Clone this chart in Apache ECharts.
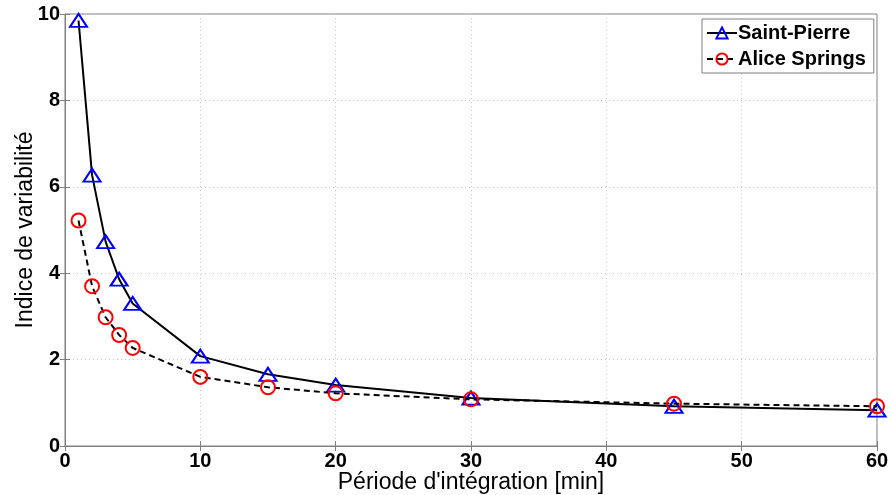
<!DOCTYPE html>
<html>
<head>
<meta charset="utf-8">
<script src="https://cdn.jsdelivr.net/npm/echarts@6/dist/echarts.min.js"></script>
<style>html,body{margin:0;padding:0;background:#fff}#c{width:892px;height:495px}</style>
</head>
<body>
<div id="c"></div>
<script>
const periods = [1, 2, 3, 4, 5, 10, 15, 20, 30, 45, 60];
const saintPierre = [9.85, 6.27, 4.73, 3.86, 3.30, 2.08, 1.66, 1.41, 1.11, 0.92, 0.83];
const aliceSprings = [5.22, 3.70, 2.98, 2.57, 2.27, 1.60, 1.36, 1.22, 1.08, 0.98, 0.92];
const xTicks = [0, 10, 20, 30, 40, 50, 60];
const yTicks = [0, 2, 4, 6, 8, 10];

const font = 'Liberation Sans, Arial, sans-serif';
const gray = '#7f7f7f';
const chart = echarts.init(document.getElementById('c'));
const pairs = (ys) => periods.map((x, i) => [x, ys[i]]);
const axisCommon = {
  axisLine: { show: true, lineStyle: { color: gray, width: 1 } },
  axisTick: { show: true, inside: true, length: 5, lineStyle: { color: gray } },
  splitLine: { show: true, lineStyle: { color: '#c8c8c8', type: [1, 3], width: 1 } },
  axisLabel: { color: '#000', fontWeight: 'bold', fontSize: 20, fontFamily: font }
};
chart.setOption({
  animation: false,
  backgroundColor: '#fff',
  grid: { left: 65, right: 15, top: 14, bottom: 49, show: true, borderColor: gray, borderWidth: 1,
          containLabel: false, outerBoundsMode: 'none' },
  legend: {
    left: 702, top: 19,
    orient: 'vertical',
    backgroundColor: '#fff',
    borderColor: gray, borderWidth: 1,
    padding: [4, 8, 4, 4],
    itemGap: 6,
    itemWidth: 30, itemHeight: 14,
    textStyle: { color: '#000', fontWeight: 'bold', fontSize: 20, fontFamily: font, padding: [0, 0, 0, -4] },
    data: ['Saint-Pierre', 'Alice Springs']
  },
  xAxis: [Object.assign({}, axisCommon, {
    type: 'value', min: xTicks[0], max: xTicks[xTicks.length - 1], interval: 10,
    name: "Période d'intégration [min]", nameLocation: 'middle', nameGap: 25, nameMoveOverlap: false,
    nameTextStyle: { color: '#000', fontSize: 23, fontFamily: font },
    axisLabel: Object.assign({}, axisCommon.axisLabel, { margin: 5 })
  }), {
    type: 'value', position: 'top', min: 0, max: 60, interval: 10,
    axisLine: { show: false }, axisLabel: { show: false }, splitLine: { show: false },
    axisTick: { show: true, inside: true, length: 5, lineStyle: { color: gray } }
  }],
  yAxis: [Object.assign({}, axisCommon, {
    type: 'value', min: yTicks[0], max: yTicks[yTicks.length - 1], interval: 2,
    name: 'Indice de variabilité', nameLocation: 'middle', nameGap: 28, nameRotate: 90, nameMoveOverlap: false,
    nameTextStyle: { color: '#000', fontSize: 23, fontFamily: font },
    axisLabel: Object.assign({}, axisCommon.axisLabel, { margin: 5 })
  }), {
    type: 'value', position: 'right', min: 0, max: 10, interval: 2,
    axisLine: { show: false }, axisLabel: { show: false }, splitLine: { show: false },
    axisTick: { show: true, inside: true, length: 5, lineStyle: { color: gray } }
  }],
  series: [{
    name: 'Saint-Pierre', type: 'line', data: pairs(saintPierre),
    smooth: false,
    symbol: 'triangle', symbolSize: [17, 13],
    lineStyle: { color: '#000', width: 2 },
    itemStyle: { color: 'rgba(0,0,0,0)', borderColor: '#0000ff', borderWidth: 2 },
    z: 3
  }, {
    name: 'Alice Springs', type: 'line', data: pairs(aliceSprings),
    smooth: false,
    symbol: 'circle', symbolSize: 14,
    lineStyle: { color: '#000', width: 2, type: [6, 4] },
    itemStyle: { color: 'rgba(0,0,0,0)', borderColor: '#ff0000', borderWidth: 2 },
    z: 4
  }]
});
</script>
</body>
</html>
